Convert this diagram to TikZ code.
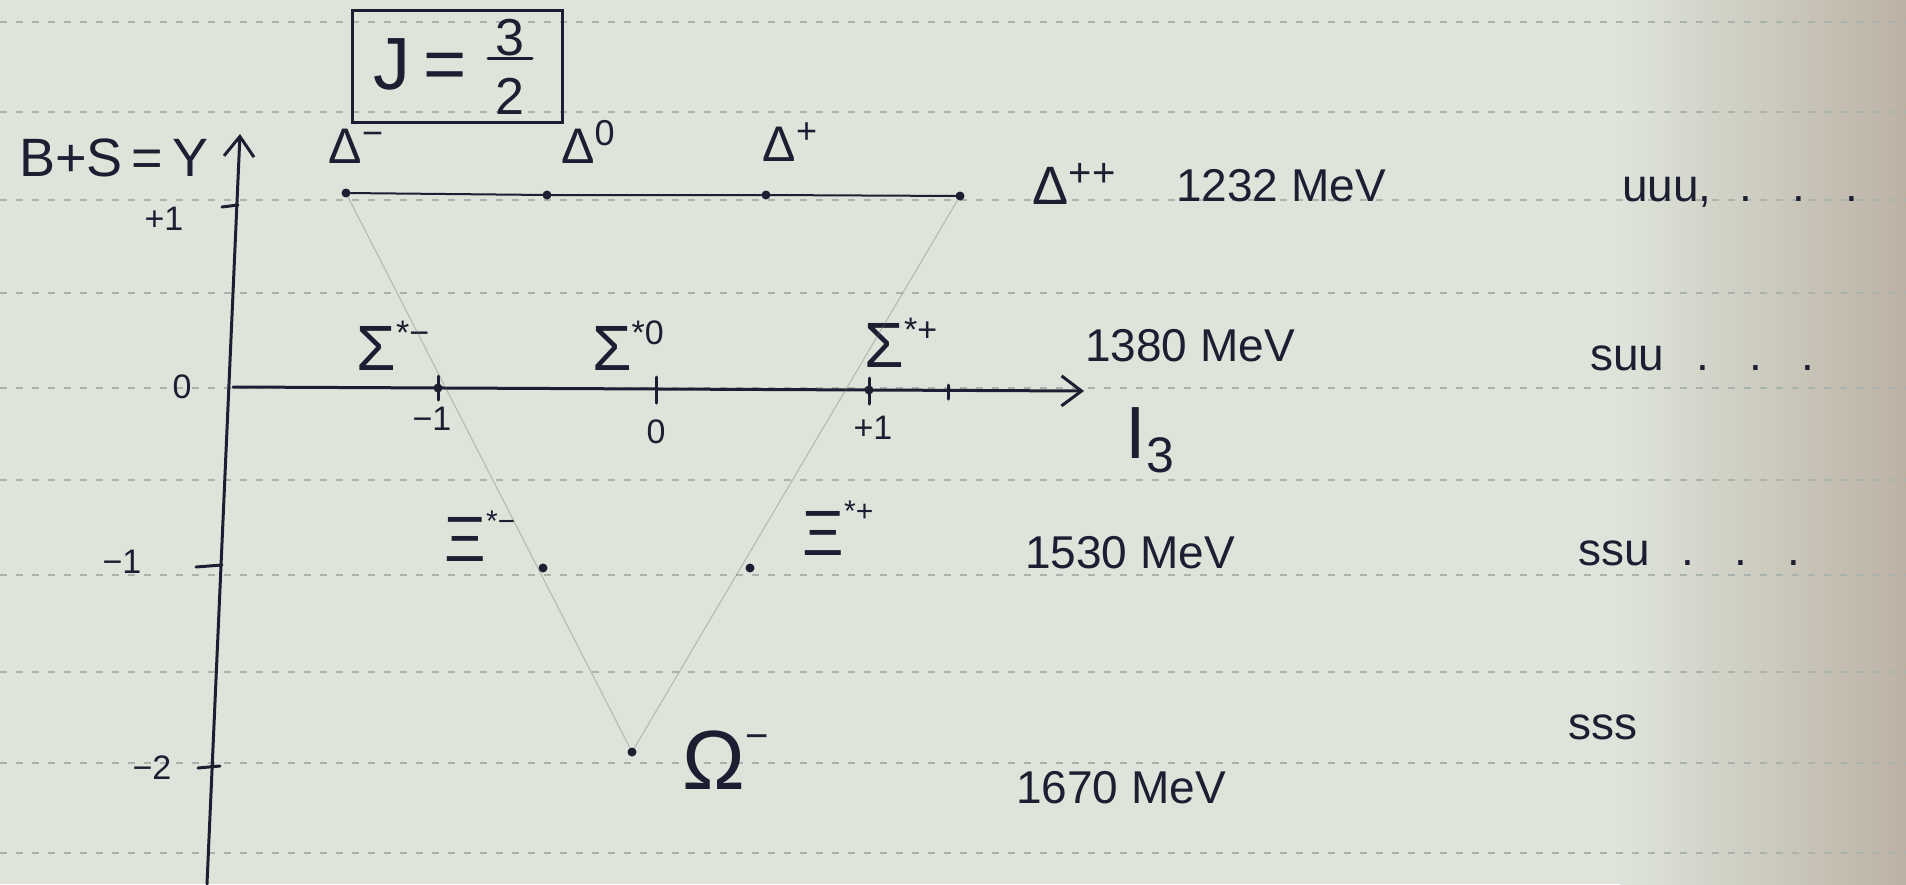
\documentclass[tikz,border=0pt]{standalone}
\usepackage{fontspec}
\setmainfont{Liberation Sans}
\usetikzlibrary{arrows.meta}
\definecolor{inkc}{RGB}{28,30,50}
\definecolor{paperM}{RGB}{222,228,218}
\definecolor{paperR}{RGB}{188,178,164}
\definecolor{rulec}{RGB}{170,180,172}
\definecolor{pencil}{RGB}{110,110,105}
% superscript: size, raise, text
\newcommand{\hsup}[3]{\raisebox{#2}{\fontsize{#1}{#1}\selectfont #3}}
\tikzset{
  ink/.style={draw=inkc, line width=3pt, line cap=round},
  thin ink/.style={draw=inkc, line width=2pt, line cap=round},
  faint/.style={draw=pencil, line width=1.1pt, opacity=0.35},
  pt/.style={circle, fill=inkc, inner sep=0pt, minimum size=9pt},
  greek/.style={text=inkc, inner sep=0pt, font=\fontsize{50}{60}\selectfont},
  sigma/.style={text=inkc, inner sep=0pt, font=\fontsize{64}{74}\selectfont},
  mev/.style={text=inkc, inner sep=0pt, font=\fontsize{46}{56}\selectfont},
  quark/.style={text=inkc, inner sep=0pt, anchor=west, font=\fontsize{46}{56}\selectfont},
  axnum/.style={text=inkc, inner sep=0pt, font=\fontsize{34}{40}\selectfont},
  axtip/.style={-{Straight Barb[length=20pt, width=30pt, line width=3pt]}},
}
\begin{document}
\begin{tikzpicture}[x=1pt,y=-1pt]
\useasboundingbox (0,0) rectangle (1906,884);
% paper
\fill[paperM] (0,0) rectangle (1906,884);
\shade[left color=paperM, right color=paperR] (1620,0) rectangle (1906,884);
\foreach \yy in {22,112,200,293,388,480,575,672,763,853}
  \draw[rulec, line width=1.6pt, dash pattern=on 7pt off 9pt] (0,\yy) -- (1906,\yy);

% axes
\coordinate (ybot) at (207,884);
\coordinate (ytop) at (240,134);
\coordinate (xl) at (233,387);
\coordinate (xr) at (1084,391);
\draw[ink, axtip] (ybot) -- (ytop);
\draw[ink, axtip] (xl) -- (xr);
\node[text=inkc, inner sep=0pt, font=\fontsize{54}{64}\selectfont] (ylab) at (114,158) {B+S\,=\,Y};
\node[text=inkc, inner sep=0pt, font=\fontsize{74}{84}\selectfont] (xlab) at (1150,440) {I\raisebox{-14pt}{\fontsize{50}{50}\selectfont 3}};

% Y ticks
\coordinate (ty1a) at (222,207); \coordinate (ty1b) at (238,205);
\coordinate (tym1a) at (196,567); \coordinate (tym1b) at (222,565);
\coordinate (tym2a) at (198,768); \coordinate (tym2b) at (220,766);
\draw[ink] (ty1a) -- (ty1b);
\draw[ink] (tym1a) -- (tym1b);
\draw[ink] (tym2a) -- (tym2b);
\node[axnum] (ly1) at (164,219) {+1};
\node[axnum] (ly0) at (182,387) {0};
\node[axnum] (lym1) at (122,562) {−1};
\node[axnum] (lym2) at (152,768) {−2};

% I3 ticks / Sigma points
\node[pt] (sm) at (438,388) {};
\node[inner sep=0pt] (s0) at (656,389) {};
\node[pt] (sp) at (869,390) {};
\coordinate (t4) at (948,390);
\draw[ink] ([yshift=-12pt]sm.center) -- ([yshift=12pt]sm.center);
\draw[ink] ([yshift=-14pt]s0.center) -- ([yshift=12pt]s0.center);
\draw[ink] ([yshift=-14pt]sp.center) -- ([yshift=12pt]sp.center);
\draw[ink] ([yshift=-9pt]t4) -- ([yshift=5pt]t4);
\node[axnum] (lxm1) at (432,419) {−1};
\node[axnum] (lx0) at (656,432) {0};
\node[axnum] (lxp1) at (873,428) {+1};

% J = 3/2 box
\node[draw=inkc, line width=3pt, minimum width=210pt, minimum height=112pt, inner sep=0pt] (jbox) at (457,66) {};
\node[text=inkc, inner sep=0pt, font=\fontsize{74}{80}\selectfont] (jj) at (420,64) {J\,=};
\node[text=inkc, inner sep=0pt, font=\fontsize{52}{56}\selectfont] (jn) at (510,38) {3};
\node[text=inkc, inner sep=0pt, font=\fontsize{52}{56}\selectfont] (jd) at (510,96) {2};
\draw[ink] ([xshift=-22pt,yshift=-2pt]jn.south) -- ([xshift=22pt,yshift=-2pt]jn.south);

% Delta row
\node[pt] (dm) at (346,193) {};
\node[pt] (d0) at (547,195) {};
\node[pt] (dp) at (766,195) {};
\node[pt] (dpp) at (960,196) {};
\draw[thin ink] (dm) -- (d0) -- (dp) -- (dpp);
\node[greek] (ldm) at (356,146) {Δ\hsup{36pt}{18pt}{−}};
\node[greek] (ld0) at (588,142) {Δ\hsup{36pt}{18pt}{0}};
\node[greek] (ldp) at (790,142) {Δ\hsup{36pt}{18pt}{+}};
\node[greek, font=\fontsize{54}{60}\selectfont] (ldpp) at (1074,184) {Δ\hsup{40pt}{18pt}{++}};

% Sigma row labels
\node[sigma] (lsm) at (393,346) {Σ\hsup{34pt}{26pt}{*−}};
\node[sigma] (ls0) at (628,346) {Σ\hsup{34pt}{26pt}{*0}};
\node[sigma] (lsp) at (901,343) {Σ\hsup{34pt}{26pt}{*+}};

% Xi row
\node[pt] (xm) at (543,568) {};
\node[pt] (xp) at (750,568) {};
\node[sigma] (lxm) at (480,536) {Ξ\hsup{30pt}{30pt}{*−}};
\node[sigma] (lxp) at (838,528) {Ξ\hsup{30pt}{34pt}{*+}};

% Omega
\node[pt] (om) at (632,752) {};
\node[text=inkc, inner sep=0pt, font=\fontsize{84}{96}\selectfont] (lom) at (726,760) {Ω\hsup{40pt}{40pt}{−}};

% faint pencil lines of the triangle
\draw[faint] (dm) -- (om);
\draw[faint] (dpp) -- (om);

% masses
\node[mev] (m1) at (1281,186) {1232 MeV};
\node[mev] (m2) at (1190,346) {1380 MeV};
\node[mev] (m3) at (1130,553) {1530 MeV};
\node[mev] (m4) at (1121,788) {1670 MeV};

% quark content
\node[quark] (q1) at (1622,192) {uuu,\hspace{28pt}.\hspace{40pt}.\hspace{40pt}.};
\node[quark] (q2) at (1590,358) {suu\hspace{32pt}.\hspace{40pt}.\hspace{40pt}.};
\node[quark] (q3) at (1578,553) {ssu\hspace{32pt}.\hspace{40pt}.\hspace{40pt}.};
\node[quark] (q4) at (1568,727) {sss};
\end{tikzpicture}
\end{document}
